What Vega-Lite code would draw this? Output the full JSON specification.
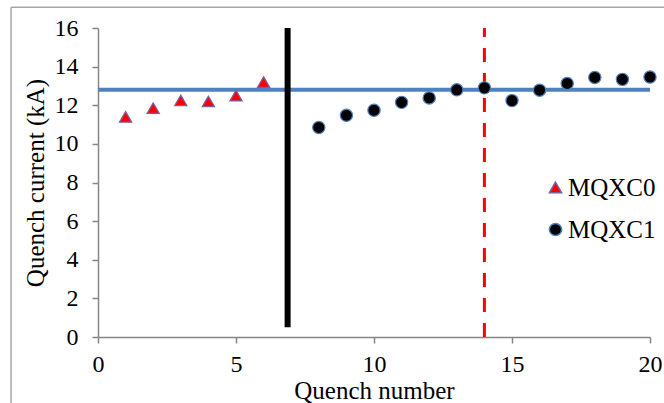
{
  "$schema": "https://vega.github.io/schema/vega-lite/v6.json",
  "width": 552,
  "height": 309,
  "autosize": {"type": "none"},
  "padding": {"left": 98, "top": 28, "right": 14, "bottom": 66},
  "background": "white",
  "config": {
    "view": {"stroke": null},
    "font": "Liberation Serif",
    "style": {
      "guide-label": {"font": "Liberation Serif", "fontSize": 24, "fill": "#000000"},
      "guide-title": {"font": "Liberation Serif", "fontSize": 25, "fill": "#000000", "fontWeight": "normal"}
    },
    "axis": {
      "grid": false,
      "domainColor": "#868686",
      "domainWidth": 1.5,
      "tickColor": "#868686",
      "tickWidth": 1.5,
      "tickSize": 6,
      "labelColor": "#000000",
      "labelFont": "Liberation Serif",
      "labelFontSize": 24,
      "labelOverlap": false,
      "labelFlush": false,
      "titleFont": "Liberation Serif",
      "titleFontSize": 25,
      "titleFontWeight": "normal",
      "titleColor": "#000000"
    },
    "legend": {"labelFont": "Liberation Serif", "labelFontSize": 25}
  },
  "datasets": {
    "quench": [
      {"n": 1, "current": 11.4, "series": "MQXC0"},
      {"n": 2, "current": 11.85, "series": "MQXC0"},
      {"n": 3, "current": 12.25, "series": "MQXC0"},
      {"n": 4, "current": 12.2, "series": "MQXC0"},
      {"n": 5, "current": 12.5, "series": "MQXC0"},
      {"n": 6, "current": 13.2, "series": "MQXC0"},
      {"n": 8, "current": 10.85, "series": "MQXC1"},
      {"n": 9, "current": 11.48, "series": "MQXC1"},
      {"n": 10, "current": 11.74, "series": "MQXC1"},
      {"n": 11, "current": 12.15, "series": "MQXC1"},
      {"n": 12, "current": 12.38, "series": "MQXC1"},
      {"n": 13, "current": 12.8, "series": "MQXC1"},
      {"n": 14, "current": 12.9, "series": "MQXC1"},
      {"n": 15, "current": 12.24, "series": "MQXC1"},
      {"n": 16, "current": 12.78, "series": "MQXC1"},
      {"n": 17, "current": 13.13, "series": "MQXC1"},
      {"n": 18, "current": 13.44, "series": "MQXC1"},
      {"n": 19, "current": 13.34, "series": "MQXC1"},
      {"n": 20, "current": 13.46, "series": "MQXC1"}
    ],
    "hline": [{"x1": 0, "x2": 20, "y": 12.8}],
    "blackline": [{"x": 6.87, "y1": 0.5, "y2": 16}],
    "redline": [{"x": 14, "y1": 0, "y2": 16}],
    "frameLeft": [{"x": -3.15, "y1": -3.5, "y2": 17.08}],
    "frameTop": [{"x1": -3.15, "x2": 20.6, "y": 17.08}]
  },
  "layer": [
    {
      "data": {"name": "frameLeft"},
      "mark": {"type": "rule", "color": "#A6A6A6", "strokeWidth": 1.5, "clip": false},
      "encoding": {
        "x": {"field": "x", "type": "quantitative", "scale": {"domain": [0, 20], "nice": false},
          "axis": {"values": [0, 5, 10, 15, 20], "title": "Quench number", "labelPadding": 9, "titlePadding": 2,
            "encode": {"labels": {"update": {"font": {"value": "Liberation Serif"}, "fontSize": {"value": 24}}}}}},
        "y": {"field": "y1", "type": "quantitative", "scale": {"domain": [0, 16], "nice": false},
          "axis": {"values": [0, 2, 4, 6, 8, 10, 12, 14, 16], "title": "Quench current (kA)", "labelPadding": 14, "titlePadding": 6,
            "encode": {"labels": {"update": {"font": {"value": "Liberation Serif"}, "fontSize": {"value": 24}}}}}},
        "y2": {"field": "y2"}
      }
    },
    {
      "data": {"name": "frameTop"},
      "mark": {"type": "rule", "color": "#A6A6A6", "strokeWidth": 1.5, "clip": false},
      "encoding": {
        "x": {"field": "x1", "type": "quantitative", "scale": {"domain": [0, 20], "nice": false},
          "axis": {"values": [0, 5, 10, 15, 20], "title": "Quench number", "labelPadding": 9, "titlePadding": 2}},
        "x2": {"field": "x2"},
        "y": {"field": "y", "type": "quantitative", "scale": {"domain": [0, 16], "nice": false},
          "axis": {"values": [0, 2, 4, 6, 8, 10, 12, 14, 16], "title": "Quench current (kA)", "labelPadding": 14, "titlePadding": 6}}
      }
    },
    {
      "data": {"name": "hline"},
      "mark": {"type": "rule", "color": "#4F81BD", "strokeWidth": 4},
      "encoding": {
        "x": {"field": "x1", "type": "quantitative", "scale": {"domain": [0, 20], "nice": false},
          "axis": {"values": [0, 5, 10, 15, 20], "title": "Quench number", "labelPadding": 9, "titlePadding": 2}},
        "x2": {"field": "x2"},
        "y": {"field": "y", "type": "quantitative", "scale": {"domain": [0, 16], "nice": false},
          "axis": {"values": [0, 2, 4, 6, 8, 10, 12, 14, 16], "title": "Quench current (kA)", "labelPadding": 14, "titlePadding": 6}}
      }
    },
    {
      "data": {"name": "blackline"},
      "mark": {"type": "rule", "color": "#000000", "strokeWidth": 6},
      "encoding": {
        "x": {"field": "x", "type": "quantitative", "scale": {"domain": [0, 20], "nice": false},
          "axis": {"values": [0, 5, 10, 15, 20], "title": "Quench number", "labelPadding": 9, "titlePadding": 2}},
        "y": {"field": "y1", "type": "quantitative", "scale": {"domain": [0, 16], "nice": false},
          "axis": {"values": [0, 2, 4, 6, 8, 10, 12, 14, 16], "title": "Quench current (kA)", "labelPadding": 14, "titlePadding": 6}},
        "y2": {"field": "y2"}
      }
    },
    {
      "data": {"name": "redline"},
      "mark": {"type": "rule", "color": "#FF0000", "strokeWidth": 3, "strokeDash": [14, 11]},
      "encoding": {
        "x": {"field": "x", "type": "quantitative", "scale": {"domain": [0, 20], "nice": false},
          "axis": {"values": [0, 5, 10, 15, 20], "title": "Quench number", "labelPadding": 9, "titlePadding": 2}},
        "y": {"field": "y1", "type": "quantitative", "scale": {"domain": [0, 16], "nice": false},
          "axis": {"values": [0, 2, 4, 6, 8, 10, 12, 14, 16], "title": "Quench current (kA)", "labelPadding": 14, "titlePadding": 6}},
        "y2": {"field": "y2"}
      }
    },
    {
      "data": {"name": "quench"},
      "mark": {"type": "point", "filled": true, "opacity": 1, "strokeWidth": 1.2, "size": 150},
      "encoding": {
        "x": {"field": "n", "type": "quantitative", "scale": {"domain": [0, 20], "nice": false},
          "axis": {"values": [0, 5, 10, 15, 20], "title": "Quench number", "labelPadding": 9, "titlePadding": 2}},
        "y": {"field": "current", "type": "quantitative", "scale": {"domain": [0, 16], "nice": false},
          "axis": {"values": [0, 2, 4, 6, 8, 10, 12, 14, 16], "title": "Quench current (kA)", "labelPadding": 14, "titlePadding": 6}},
        "shape": {
          "field": "series", "type": "nominal",
          "scale": {"domain": ["MQXC0", "MQXC1"], "range": ["triangle-up", "circle"]},
          "legend": {
            "title": null, "orient": "none", "legendX": 445, "legendY": 147,
            "labelFont": "Liberation Serif", "labelFontSize": 25, "labelColor": "#000000",
            "symbolSize": 150, "rowPadding": 16, "labelOffset": 0,
            "encode": {"labels": {"update": {"font": {"value": "Liberation Serif"}, "fontSize": {"value": 25}}}}
          }
        },
        "fill": {
          "field": "series", "type": "nominal",
          "scale": {"domain": ["MQXC0", "MQXC1"], "range": ["#FF0000", "#000000"]},
          "legend": {
            "title": null, "orient": "none", "legendX": 445, "legendY": 147,
            "labelFont": "Liberation Serif", "labelFontSize": 25, "labelColor": "#000000",
            "symbolSize": 150, "rowPadding": 16, "labelOffset": 0,
            "encode": {"labels": {"update": {"font": {"value": "Liberation Serif"}, "fontSize": {"value": 25}}}}
          }
        },
        "stroke": {
          "field": "series", "type": "nominal",
          "scale": {"domain": ["MQXC0", "MQXC1"], "range": ["#7B5FA6", "#4F81BD"]},
          "legend": {
            "title": null, "orient": "none", "legendX": 445, "legendY": 147,
            "labelFont": "Liberation Serif", "labelFontSize": 25, "labelColor": "#000000",
            "symbolSize": 150, "rowPadding": 16, "labelOffset": 0,
            "encode": {"labels": {"update": {"font": {"value": "Liberation Serif"}, "fontSize": {"value": 25}}}}
          }
        }
      }
    }
  ]
}
